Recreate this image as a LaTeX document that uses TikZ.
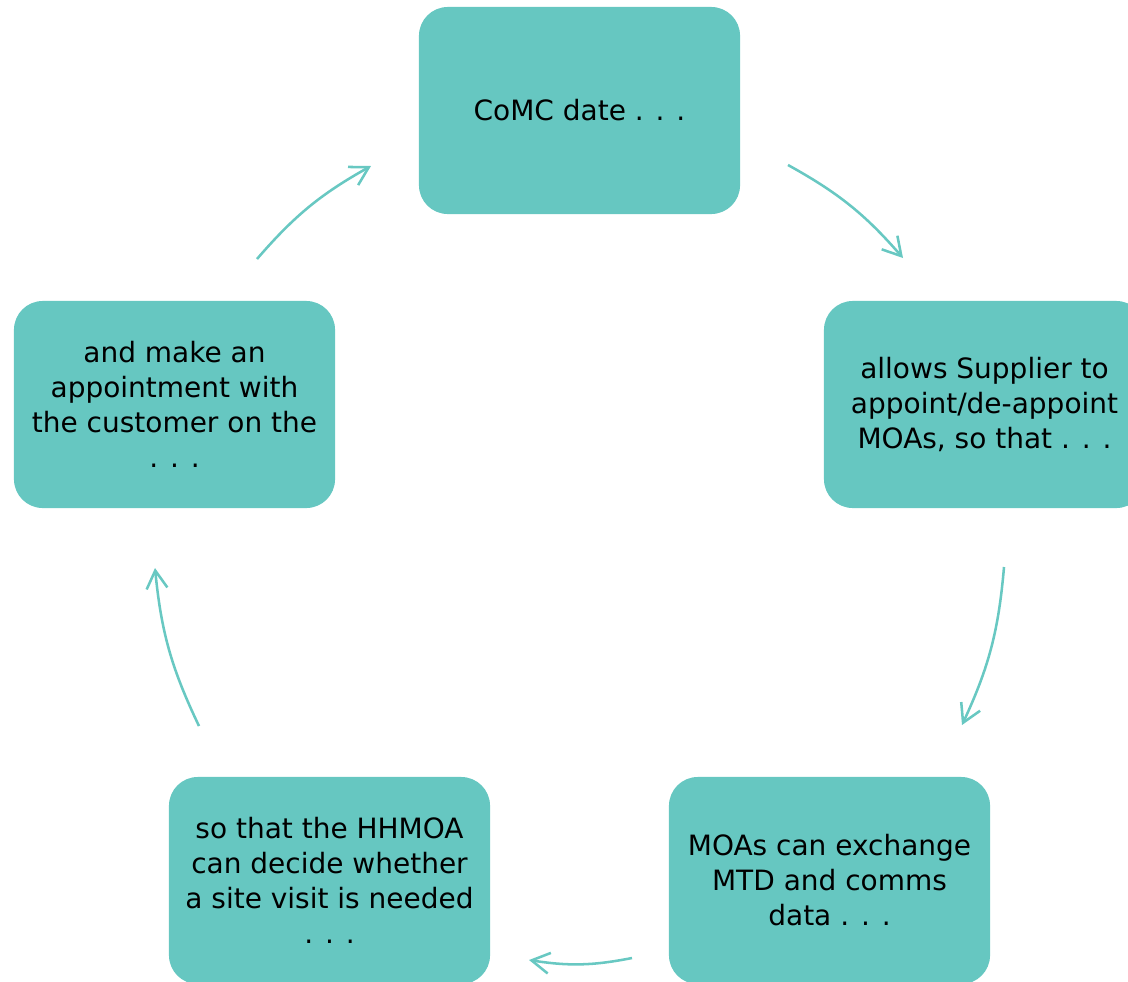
\documentclass[tikz,border=0pt]{standalone}
\usepackage{fontspec}
\setmainfont{DejaVu Sans}
\usetikzlibrary{arrows.meta}
\definecolor{tealbox}{RGB}{102,199,193}
\definecolor{tealline}{RGB}{104,200,194}
\begin{document}
\begin{tikzpicture}[
    x=0.025cm, y=-0.025cm,
    stage/.style={rectangle, fill=tealbox, rounded corners=0.72cm, minimum width=8.025cm, minimum height=5.175cm, inner sep=0pt, align=center, font=\fontsize{19.9pt}{24.9pt}\selectfont},
    cycarrow/.style={draw=tealline, line width=1.8pt, -{Straight Barb[length=0.45cm, width=0.52cm, line width=1.8pt]}, bend left=10},
    ]
    \useasboundingbox (0,0) rectangle (1128,981);

    % Stages
    \node[stage] (comc) at (579.5,110.5) {CoMC date . . .};
    \node[stage] (supplier) at (984.5,404.5) {allows Supplier to\\appoint/de-appoint\\MOAs, so that . . .};
    \node[stage] (exchange) at (829.5,880.5) {MOAs can exchange\\MTD and comms\\data . . .};
    \node[stage] (hhmoa) at (329.5,880.5) {so that the HHMOA\\can decide whether\\a site visit is needed\\. . .};
    \node[stage] (appoint) at (174.5,404.5) {and make an\\appointment with\\the customer on the\\. . .};

    % Arrow ends
    \coordinate (a1s) at (788,165);  \coordinate (a1e) at (903,258);
    \coordinate (a2s) at (1004,567); \coordinate (a2e) at (962,725);
    \coordinate (a3s) at (632,958);  \coordinate (a3e) at (529,960);
    \coordinate (a4s) at (199,726);  \coordinate (a4e) at (155,568);
    \coordinate (a5s) at (257,259);  \coordinate (a5e) at (371,166);

    % Cycle arrows
    \draw[cycarrow] (a1s) to (a1e);
    \draw[cycarrow] (a2s) to (a2e);
    \draw[cycarrow] (a3s) to (a3e);
    \draw[cycarrow] (a4s) to (a4e);
    \draw[cycarrow] (a5s) to (a5e);

\end{tikzpicture}
\end{document}
